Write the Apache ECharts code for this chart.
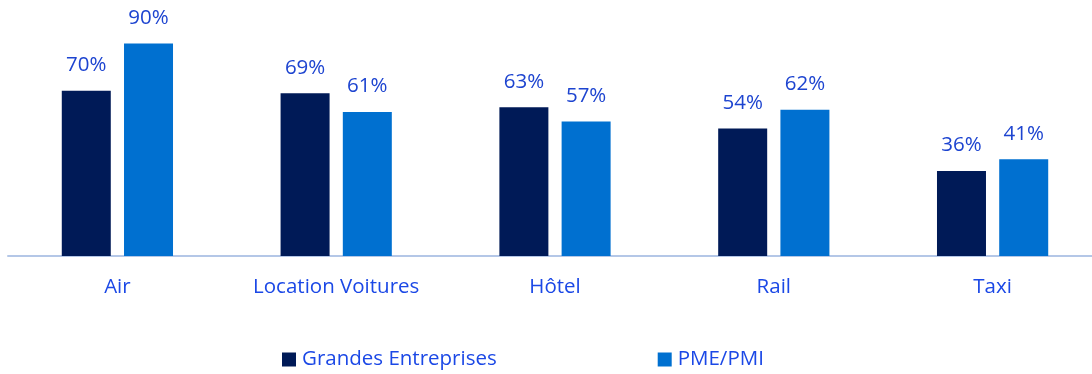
<!DOCTYPE html>
<html>
<head>
<meta charset="utf-8">
<script src="https://cdn.jsdelivr.net/npm/echarts@6/dist/echarts.min.js"></script>
<style>
  html, body { margin: 0; padding: 0; background: #ffffff; }
  #chart { width: 1092px; height: 374px; }
</style>
</head>
<body>
<div id="chart"></div>
<script>
// Share of companies per travel category (%)
const categories = ['Air', 'Location Voitures', 'Hôtel', 'Rail', 'Taxi'];
const grandesEntreprises = [70, 69, 63, 54, 36];
const pmePmi = [90, 61, 57, 62, 41];
const seriesNames = ['Grandes Entreprises', 'PME/PMI'];

const axisBlue = '#1b48e6';
const valueBlue = '#1d44d0';
const fontFamily = 'Open Sans, Noto Sans, sans-serif';

const chart = echarts.init(document.getElementById('chart'));

const labelStyle = {
  show: true,
  position: 'top',
  distance: 15,
  formatter: p => p.value + '%',
  color: valueBlue,
  fontSize: 20.5,
  fontFamily: fontFamily
};

chart.setOption({
  animation: false,
  grid: { left: 8, right: -10, top: 20, bottom: 118, outerBoundsMode: 'none', containLabel: false },
  legend: {
    data: seriesNames,
    bottom: -1,
    left: 277,
    itemWidth: 14,
    itemHeight: 14,
    itemGap: 161,
    icon: 'rect',
    textStyle: { color: axisBlue, fontSize: 20.5, fontFamily: fontFamily, padding: [0, 0, 0, 1] }
  },
  xAxis: {
    type: 'category',
    data: categories,
    axisLine: { lineStyle: { color: '#b4c7e7', width: 2 } },
    axisTick: { show: false },
    axisLabel: { color: axisBlue, fontSize: 20.5, fontFamily: fontFamily, margin: 21 }
  },
  yAxis: {
    type: 'value',
    min: 0,
    max: 100,
    show: false
  },
  series: [
    {
      name: seriesNames[0],
      type: 'bar',
      data: grandesEntreprises,
      barWidth: 49,
      barGap: '27%',
      itemStyle: { color: '#001a57' },
      label: labelStyle
    },
    {
      name: seriesNames[1],
      type: 'bar',
      data: pmePmi,
      barWidth: 49,
      itemStyle: { color: '#0070d0' },
      label: labelStyle
    }
  ]
});
</script>
</body>
</html>
